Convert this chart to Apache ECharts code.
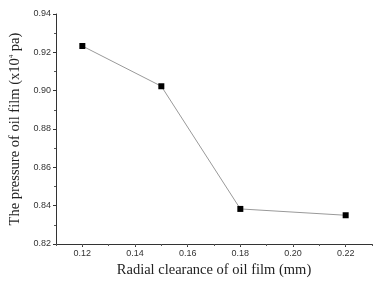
<!DOCTYPE html>
<html lang="en">
<head>
    <meta charset="UTF-8">
    <title>Oil film pressure</title>
    <style>
        * { margin: 0; }
        body { background: #fff; }
        #main { width: 373px; height: 281px; }
    </style>
    <script src="https://cdn.jsdelivr.net/npm/echarts@6/dist/echarts.min.js"></script>
</head>
<body>
<div id="main"></div>
<script>
    var clearance = [0.12, 0.15, 0.18, 0.22];
    var pressure = [0.9233, 0.9023, 0.8383, 0.8350];
    var xTicks = [0.12, 0.14, 0.16, 0.18, 0.20, 0.22];

    var myChart = echarts.init(document.getElementById('main'));

    var tickLabel = { color: '#333', fontSize: 9, fontFamily: 'Liberation Sans' };
    var nameStyle = { color: '#222', fontSize: 14.5, fontFamily: 'Liberation Serif' };

    var points = [];
    for (var i = 0; i < clearance.length; i++) {
        points.push([clearance[i], pressure[i]]);
    }

    var option = {
        animation: false,
        grid: { left: 56, right: 1, top: 14, bottom: 37, outerBoundsMode: 'none' },
        xAxis: [
            {
                type: 'value',
                min: 0.11,
                max: 0.23,
                name: 'Radial clearance of oil film (mm)',
                nameLocation: 'middle',
                nameGap: 18,
                nameTextStyle: nameStyle,
                splitLine: { show: false },
                axisLine: { lineStyle: { color: '#333', width: 1 } },
                axisTick: {
                    customValues: xTicks,
                    length: 3,
                    lineStyle: { color: '#333' }
                },
                axisLabel: {
                    customValues: xTicks,
                    margin: 5,
                    formatter: function (v) { return v.toFixed(2); },
                    color: tickLabel.color,
                    fontSize: tickLabel.fontSize,
                    fontFamily: tickLabel.fontFamily
                }
            },
            { // minor ticks
                type: 'value',
                position: 'bottom',
                min: 0.11,
                max: 0.23,
                interval: 0.01,
                splitLine: { show: false },
                axisLine: { show: false },
                axisTick: { length: 2, lineStyle: { color: '#555' } },
                axisLabel: { show: false }
            }
        ],
        yAxis: {
            type: 'value',
            min: 0.82,
            max: 0.94,
            interval: 0.02,
            name: '{n|The pressure of oil film (x10}{s|4}{n| pa)}',
            nameLocation: 'middle',
            nameGap: 28,
            nameTextStyle: {
                rich: {
                    n: nameStyle,
                    s: { color: '#222', fontSize: 7, fontFamily: 'Liberation Serif', verticalAlign: 'top', padding: [0, 0, 7, 0] }
                }
            },
            splitLine: { show: false },
            axisLine: { show: true, lineStyle: { color: '#333', width: 1 } },
            axisTick: { show: true, length: 3, lineStyle: { color: '#333' } },
            minorTick: { show: true, splitNumber: 2, length: 2, lineStyle: { color: '#555' } },
            axisLabel: {
                margin: 5,
                formatter: function (v) { return v.toFixed(2); },
                color: tickLabel.color,
                fontSize: tickLabel.fontSize,
                fontFamily: tickLabel.fontFamily
            }
        },
        series: [
            {
                type: 'line',
                data: points,
                symbol: 'rect',
                symbolSize: 6,
                itemStyle: { color: '#000' },
                lineStyle: { color: '#999', width: 1 }
            }
        ]
    };
    myChart.setOption(option);
</script>
</body>
</html>
